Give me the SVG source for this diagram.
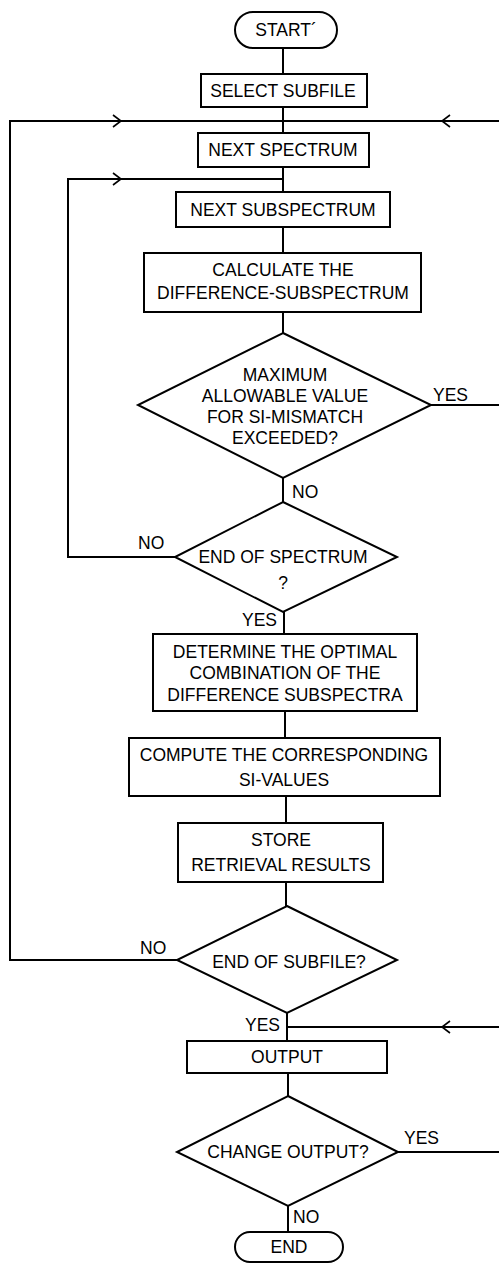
<svg xmlns="http://www.w3.org/2000/svg" width="499" height="1264" viewBox="0 0 499 1264">
<style>
.s{fill:#fff;stroke:#000;stroke-width:2}
.c{fill:none;stroke:#000;stroke-width:2}
.a{fill:none;stroke:#000;stroke-width:1.6}
text{font-family:"Liberation Sans",Arial,sans-serif;font-size:17.5px;fill:#000;text-anchor:middle}
.l{text-anchor:start}
</style>
<rect width="499" height="1264" fill="#fff"/>
<g id="connectors">
<path class="c" d="M283 48V74M283 107V133M283 167V192M283 227V253M283 312V333M283 478V502M284 612V634M285 711V738M286 796V823M286 882V906M287 1013V1041M288 1073V1096M288 1206V1232"/>
<path class="c" d="M175 557H68V179H283"/>
<path class="c" d="M177 960H10V121H499"/>
<path class="c" d="M431 405H499"/>
<path class="c" d="M398 1152H499"/>
<path class="c" d="M499 1027H287"/>
<path class="a" d="M113 115L121 121L113 127M450 115L442 121L450 127M113 173L121 179L113 185M450 1021L442 1027L450 1033"/>
</g>
<g id="start"><rect class="s" x="235" y="12" width="102" height="36" rx="18"/><text x="286" y="36">START´</text></g>
<g id="select"><rect class="s" x="201" y="74" width="166" height="33"/><text x="283" y="97">SELECT SUBFILE</text></g>
<g id="nextspectrum"><rect class="s" x="198" y="133" width="171" height="34"/><text x="283" y="156">NEXT SPECTRUM</text></g>
<g id="nextsub"><rect class="s" x="176" y="192" width="214" height="35"/><text x="283" y="216">NEXT SUBSPECTRUM</text></g>
<g id="calc"><rect class="s" x="144" y="253" width="277" height="59"/><text x="283" y="276">CALCULATE THE</text><text x="283" y="299">DIFFERENCE-SUBSPECTRUM</text></g>
<g id="d1"><polygon class="s" points="283,333 431,405 283,478 138,405"/><text x="285" y="381">MAXIMUM</text><text x="285" y="402">ALLOWABLE VALUE</text><text x="285" y="423">FOR SI-MISMATCH</text><text x="285" y="444">EXCEEDED?</text><text class="l" x="433" y="401">YES</text><text class="l" x="292" y="498">NO</text></g>
<g id="d2"><polygon class="s" points="283,502 397,557 283,612 175,557"/><text x="283" y="563">END OF SPECTRUM</text><text x="283" y="589">?</text><text class="l" x="138" y="549">NO</text><text class="l" x="242" y="626">YES</text></g>
<g id="determine"><rect class="s" x="153" y="634" width="264" height="77"/><text x="285" y="658">DETERMINE THE OPTIMAL</text><text x="285" y="679">COMBINATION OF THE</text><text x="285" y="701">DIFFERENCE SUBSPECTRA</text></g>
<g id="compute"><rect class="s" x="129" y="738" width="311" height="58"/><text x="284" y="761">COMPUTE THE CORRESPONDING</text><text x="284" y="786">SI-VALUES</text></g>
<g id="store"><rect class="s" x="178" y="823" width="205" height="59"/><text x="281" y="846">STORE</text><text x="281" y="871">RETRIEVAL RESULTS</text></g>
<g id="d3"><polygon class="s" points="287,906 397,960 287,1013 177,960"/><text x="289" y="968">END OF SUBFILE?</text><text class="l" x="140" y="954">NO</text><text class="l" x="245" y="1031">YES</text></g>
<g id="output"><rect class="s" x="187" y="1041" width="200" height="32"/><text x="287" y="1063">OUTPUT</text></g>
<g id="d4"><polygon class="s" points="288,1096 398,1152 288,1206 177,1152"/><text x="288" y="1158">CHANGE OUTPUT?</text><text class="l" x="404" y="1144">YES</text><text class="l" x="293" y="1223">NO</text></g>
<g id="end"><rect class="s" x="235" y="1232" width="108" height="30" rx="15"/><text x="289" y="1253">END</text></g>
</svg>
